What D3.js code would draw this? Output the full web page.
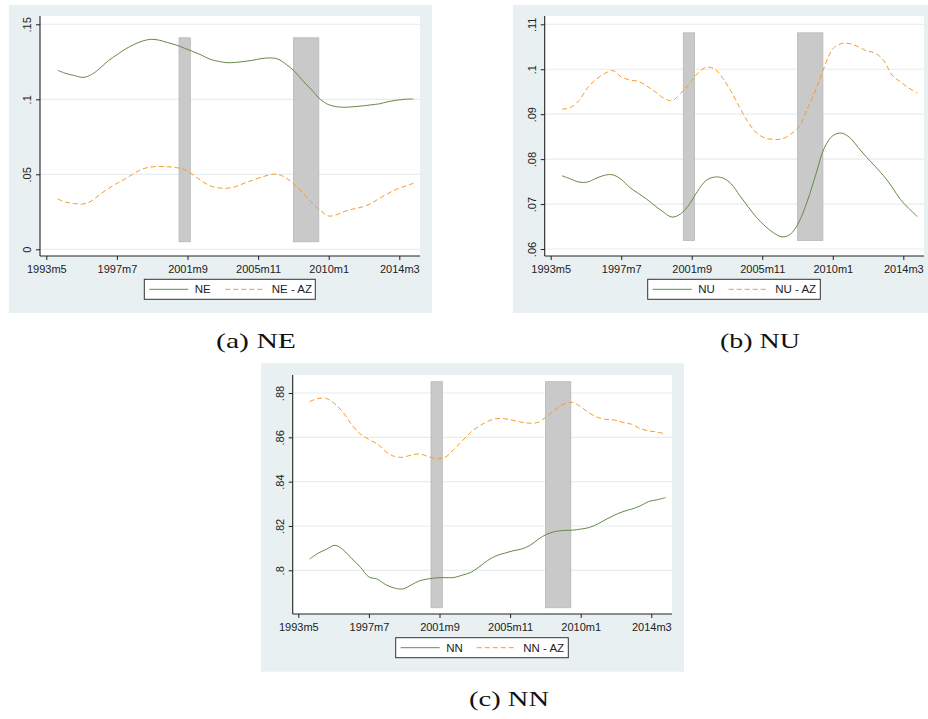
<!DOCTYPE html>
<html>
<head>
<meta charset="utf-8">
<script src="https://cdn.jsdelivr.net/npm/d3@7"></script>
<style>
  html, body { margin: 0; padding: 0; background: #ffffff; }
  svg { display: block; }
</style>
</head>
<body>
<svg id="chart" width="928" height="719"></svg>
<script>
// ---------------- DATA ----------------
// half-year grid (decimal years)
const dates = [1994.0,1994.5,1995.0,1995.5,1996.0,1996.5,1997.0,1997.5,1998.0,1998.5,1999.0,1999.5,2000.0,2000.5,2001.0,2001.5,2002.0,2002.5,2003.0,2003.5,2004.0,2004.5,2005.0,2005.5,2006.0,2006.5,2007.0,2007.5,2008.0,2008.5,2009.0,2009.5,2010.0,2010.5,2011.0,2011.5,2012.0,2012.5,2013.0,2013.5,2014.0,2014.5,2015.0];

const ne   = [0.1193,0.1172,0.1158,0.1146,0.1165,0.1207,0.1258,0.1297,0.1335,0.1365,0.1388,0.1400,0.1394,0.1378,0.1362,0.1340,0.1318,0.1294,0.1267,0.1253,0.1244,0.1246,0.1252,0.1260,0.1271,0.1276,0.1268,0.1232,0.1185,0.1120,0.1062,0.1000,0.0964,0.0950,0.0947,0.0951,0.0956,0.0963,0.0970,0.0984,0.0994,0.1000,0.1002];
const neAz = [0.0336,0.0313,0.0305,0.0302,0.0322,0.0367,0.0405,0.0440,0.0470,0.0505,0.0535,0.0549,0.0552,0.0550,0.0545,0.0530,0.0497,0.0455,0.0423,0.0410,0.0407,0.0418,0.0440,0.0460,0.0480,0.0496,0.0500,0.0474,0.0430,0.0373,0.0310,0.0260,0.0222,0.0232,0.0255,0.0270,0.0283,0.0305,0.0340,0.0372,0.0400,0.0420,0.0440];

const nu   = [0.0763,0.0756,0.0749,0.0749,0.0757,0.0764,0.0765,0.0755,0.0737,0.0724,0.0711,0.0696,0.0682,0.0671,0.0678,0.0698,0.0728,0.0752,0.0760,0.0758,0.0745,0.0719,0.0694,0.0670,0.0651,0.0636,0.0627,0.0633,0.0660,0.0707,0.0766,0.0825,0.0852,0.0858,0.0848,0.0826,0.0804,0.0784,0.0763,0.0738,0.0710,0.0690,0.0672];
const nuAz = [0.0911,0.0915,0.0930,0.0958,0.0977,0.0990,0.0997,0.0983,0.0976,0.0973,0.0963,0.0950,0.0936,0.0930,0.0946,0.0967,0.0990,0.1004,0.1001,0.0980,0.0950,0.0915,0.0882,0.0858,0.0847,0.0844,0.0845,0.0855,0.0872,0.0912,0.0955,0.1005,0.1045,0.1057,0.1057,0.1050,0.1041,0.1036,0.1020,0.0987,0.0972,0.0958,0.0947];

const nn   = [0.8051,0.8077,0.8095,0.8113,0.8091,0.8052,0.8014,0.7970,0.7960,0.7935,0.7920,0.7916,0.7934,0.7953,0.7961,0.7966,0.7967,0.7967,0.7978,0.7990,0.8015,0.8044,0.8065,0.8077,0.8088,0.8096,0.8112,0.8140,0.8163,0.8175,0.8180,0.8181,0.8186,0.8193,0.8209,0.8230,0.8249,0.8265,0.8276,0.8290,0.8310,0.8318,0.8328];
const nnAz = [0.8761,0.8775,0.8775,0.8750,0.8710,0.8655,0.8615,0.8590,0.8570,0.8535,0.8514,0.8510,0.8520,0.8525,0.8513,0.8503,0.8510,0.8545,0.8583,0.8622,0.8650,0.8672,0.8684,0.8684,0.8677,0.8668,0.8664,0.8668,0.8695,0.8725,0.8750,0.8758,0.8738,0.8710,0.8690,0.8681,0.8678,0.8667,0.8659,0.8640,0.8629,0.8624,0.8615];

// x axis ticks (decimal years) and labels
const xTickDates  = [1993 + 4/12, 1997 + 6/12, 2001 + 8/12, 2005 + 10/12, 2010 + 0/12, 2014 + 2/12];
const xTickLabels = ["1993m5", "1997m7", "2001m9", "2005m11", "2010m1", "2014m3"];

// recessions (start, end) : 2001m3-2001m11, 2007m12-2009m6
const recessions = [[2001 + 2/12, 2001 + 10/12], [2007 + 11/12, 2009 + 5/12]];

// y ticks per panel
const yTicksNE = [0, 0.05, 0.10, 0.15];
const yLabelsNE = ["0", ".05", ".1", ".15"];
const yTicksNU = [0.06, 0.07, 0.08, 0.09, 0.10, 0.11];
const yLabelsNU = [".06", ".07", ".08", ".09", ".1", ".11"];
const yTicksNN = [0.80, 0.82, 0.84, 0.86, 0.88];
const yLabelsNN = [".8", ".82", ".84", ".86", ".88"];

// recession band vertical extent per panel
const bandNE = [0.005, 0.141];
const bandNU = [0.0619, 0.1081];
const bandNN = [0.7831, 0.8851];

const seriesNames = { NE: ["NE", "NE - AZ"], NU: ["NU", "NU - AZ"], NN: ["NN", "NN - AZ"] };
const captions = ["(a) NE", "(b) NU", "(c) NN"];

// ---------------- LAYOUT ----------------
const GREEN = "#66894a";
const ORANGE = "#f79a26";
const BG = "#e8f0f2";
const GRID = "#e6eef0";

const panels = [
  { bg: [9, 5, 423, 308], plot: [40, 16, 420, 256], yDom: [0, 0.15], yRng: [249.3, 24.3],
    xRng: [46.3, 399.3], ticks: yTicksNE, labels: yLabelsNE, band: bandNE,
    s1: ne, s2: neAz, names: seriesNames.NE, legend: [144.3, 279.3, 171, 20],
    caption: captions[0], cap: [256, 348] },
  { bg: [513, 5, 415, 308], plot: [544.7, 16, 924, 256], yDom: [0.06, 0.11], yRng: [249, 24.3],
    xRng: [550.7, 903.3], ticks: yTicksNU, labels: yLabelsNU, band: bandNU,
    s1: nu, s2: nuAz, names: seriesNames.NU, legend: [647.7, 279.3, 172.6, 20],
    caption: captions[1], cap: [760, 348] },
  { bg: [261, 363.3, 423, 308.4], plot: [292.7, 375, 672, 614], yDom: [0.80, 0.88], yRng: [570.3, 393],
    xRng: [298.3, 651.3], ticks: yTicksNN, labels: yLabelsNN, band: bandNN,
    s1: nn, s2: nnAz, names: seriesNames.NN, legend: [395.7, 637.7, 172.6, 20],
    caption: captions[2], cap: [509, 706] }
];

const svg = d3.select("#chart");
const font = "'Liberation Sans', Arial, sans-serif";

panels.forEach(p => {
  const g = svg.append("g");
  g.append("rect").attr("x", p.bg[0]).attr("y", p.bg[1]).attr("width", p.bg[2]).attr("height", p.bg[3])
    .attr("fill", BG);
  const [px0, py0, px1, py1] = p.plot;
  g.append("rect").attr("x", px0).attr("y", py0).attr("width", px1 - px0).attr("height", py1 - py0)
    .attr("fill", "#ffffff");

  const x = d3.scaleLinear().domain([xTickDates[0], xTickDates[xTickDates.length - 1]]).range(p.xRng);
  const y = d3.scaleLinear().domain(p.yDom).range(p.yRng);

  // gridlines
  g.selectAll(".grid").data(p.ticks).join("line")
    .attr("x1", px0).attr("x2", px1)
    .attr("y1", d => y(d)).attr("y2", d => y(d))
    .attr("stroke", GRID).attr("stroke-width", 1.2);

  // recession bars
  g.selectAll(".rec").data(recessions).join("rect")
    .attr("x", d => x(d[0])).attr("width", d => x(d[1]) - x(d[0]))
    .attr("y", y(p.band[1])).attr("height", y(p.band[0]) - y(p.band[1]))
    .attr("fill", "#c9c9c9").attr("stroke", "#b8b8b8").attr("stroke-width", 0.8);

  const line = d3.line().x((d, i) => x(dates[i])).y(d => y(d)).curve(d3.curveCatmullRom.alpha(0.5));

  g.append("path").attr("d", line(p.s2)).attr("fill", "none").attr("stroke", ORANGE)
    .attr("stroke-width", 1).attr("stroke-dasharray", "5,3");
  g.append("path").attr("d", line(p.s1)).attr("fill", "none").attr("stroke", GREEN)
    .attr("stroke-width", 1);

  // axes
  const xAxis = d3.axisBottom(x).tickValues(xTickDates).tickFormat((d, i) => xTickLabels[i])
    .tickSize(4).tickSizeOuter(0);
  const xa = g.append("g").attr("transform", `translate(0,${py1})`).call(xAxis);
  xa.select(".domain").attr("d", `M${px0},0H${px1}`).attr("stroke", "#222").attr("stroke-width", 1.1);
  xa.selectAll(".tick line").attr("stroke", "#222");
  xa.selectAll(".tick text").attr("font-family", font).attr("font-size", 11).attr("fill", "#222")
    .attr("dy", null).attr("y", 16.5);

  const yAxis = d3.axisLeft(y).tickValues(p.ticks).tickFormat((d, i) => p.labels[i])
    .tickSize(4).tickSizeOuter(0);
  const ya = g.append("g").attr("transform", `translate(${px0},0)`).call(yAxis);
  ya.select(".domain").attr("d", `M0,${py0}V${py1}`).attr("stroke", "#222").attr("stroke-width", 1.1);
  ya.selectAll(".tick line").attr("stroke", "#222");
  ya.selectAll(".tick text").attr("font-family", font).attr("font-size", 11).attr("fill", "#222")
    .attr("x", null).attr("dy", null).attr("text-anchor", "middle")
    .attr("transform", "translate(-9,0) rotate(-90)");

  // legend
  const [lx, ly, lw, lh] = p.legend;
  const lg = g.append("g");
  lg.append("rect").attr("x", lx).attr("y", ly).attr("width", lw).attr("height", lh)
    .attr("fill", "#ffffff").attr("stroke", "#333").attr("stroke-width", 1);
  const my = ly + lh / 2;
  lg.append("line").attr("x1", lx + 5).attr("x2", lx + 44).attr("y1", my).attr("y2", my)
    .attr("stroke", GREEN).attr("stroke-width", 1);
  lg.append("text").attr("x", lx + 50.5).attr("y", my + 4).text(p.names[0])
    .attr("font-family", font).attr("font-size", 11.5).attr("fill", "#222");
  lg.append("line").attr("x1", lx + 81).attr("x2", lx + 119).attr("y1", my).attr("y2", my)
    .attr("stroke", ORANGE).attr("stroke-width", 1).attr("stroke-dasharray", "5,3");
  lg.append("text").attr("x", lx + 127.5).attr("y", my + 4).text(p.names[1])
    .attr("font-family", font).attr("font-size", 11.5).attr("fill", "#222");

  // caption
  svg.append("text").attr("x", p.cap[0]).attr("y", p.cap[1]).attr("text-anchor", "middle")
    .attr("font-family", "'Liberation Serif', 'DejaVu Serif', serif").attr("font-size", 22)
    .attr("textLength", 80).attr("lengthAdjust", "spacingAndGlyphs")
    .attr("fill", "#111").text(p.caption);
});
</script>
</body>
</html>
